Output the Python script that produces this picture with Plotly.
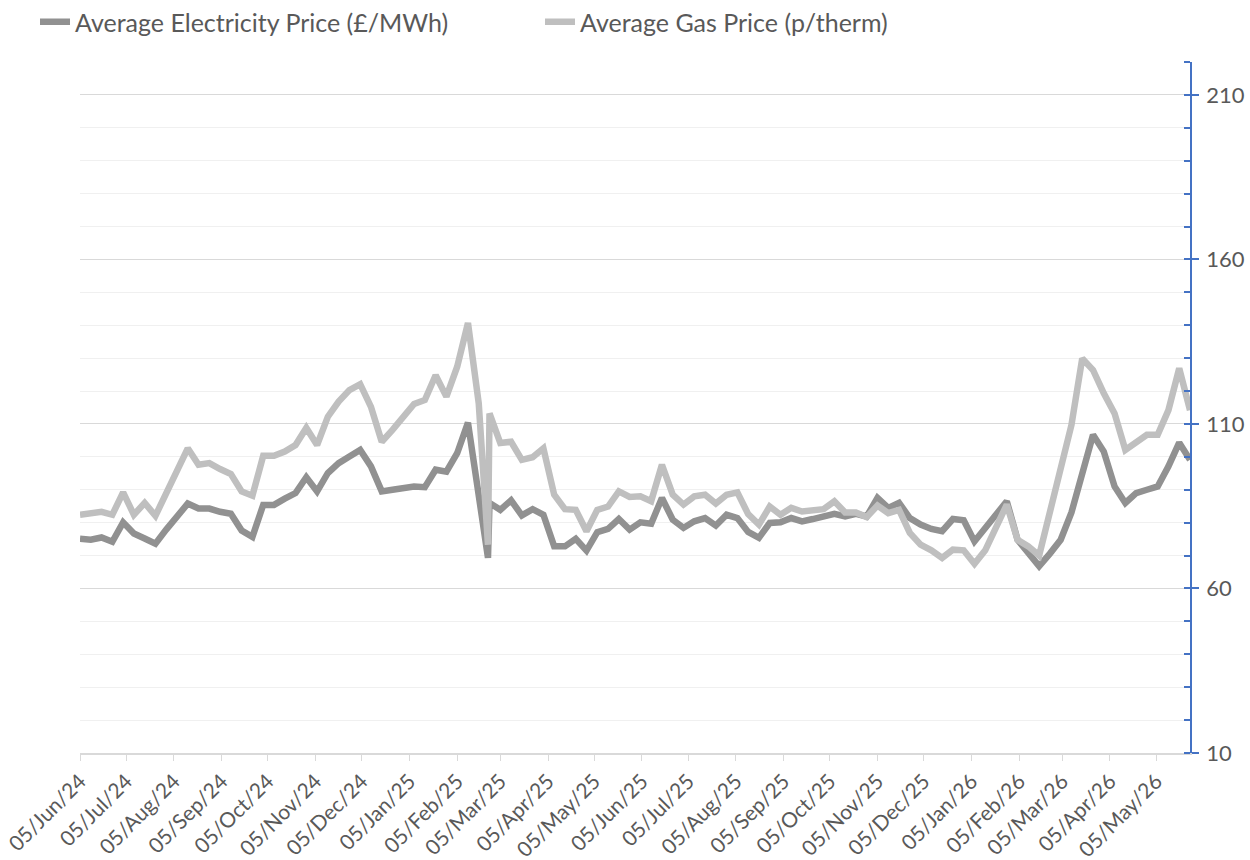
import pandas as pd
import plotly.graph_objects as go

# ---- data ----
weekly_dates = pd.date_range("2024-06-05", periods=104, freq="7D")
extra_date = pd.Timestamp("2025-02-25")  # irregular dip point
dates = sorted(list(weekly_dates) + [extra_date])

electricity = [
    75.1, 74.8, 75.5, 74.2, 80.1, 76.7, 75.2, 73.6, 77.9, 81.8,
    85.8, 84.3, 84.3, 83.3, 82.7, 77.6, 75.7, 85.4, 85.4, 87.3,
    89.0, 93.8, 89.5, 95.1, 98.1, 100.1, 102.1, 97.1, 89.5, 90.0,
    90.5, 91.0, 90.8, 96.1, 95.5, 101.1, 110.4, 87.8, 69.3,
    86.0, 83.9,
    86.8, 82.2, 84.1, 82.4, 72.8, 72.8, 75.1, 71.5, 77.1, 78.1,
    81.1, 77.9, 80.1, 79.7, 87.5, 80.9, 78.4, 80.4, 81.4, 79.1,
    82.4, 81.4, 77.2, 75.4, 79.9, 80.1, 81.4, 80.4, 81.1, 81.7,
    82.7, 81.9, 82.7, 81.9, 87.5, 84.5, 86.0, 81.4, 79.4, 78.1,
    77.4, 81.1, 80.7, 74.3, 78.4, 82.1, 86.5, 74.8, 70.8, 66.8,
    70.6, 74.8, 83.1, 95.1, 106.7, 101.6, 91.0, 86.0, 89.0, 90.0,
    91.0, 97.1, 104.3, 99.1,
]
gas = [
    82.4, 83.0, 83.3, 82.4, 89.2, 82.4, 86.0, 82.1, 89.0, 95.8,
    102.6, 97.6, 98.1, 96.3, 94.8, 89.5, 88.2, 100.3, 100.3, 101.6,
    103.6, 108.8, 103.6, 112.2, 116.8, 120.3, 122.1, 115.2, 104.6, 108.2,
    112.2, 116.1, 117.3, 124.8, 118.3, 127.4, 140.7, 116.3, 73.3,
    113.2, 104.2,
    104.6, 99.1, 99.9, 102.6, 88.5, 84.1, 83.9, 77.4, 83.9, 84.9,
    89.5, 87.8, 88.0, 86.5, 97.6, 88.5, 85.5, 88.0, 88.5, 85.8,
    88.5, 89.2, 82.6, 79.4, 84.9, 82.4, 84.5, 83.4, 83.7, 84.1,
    86.5, 83.1, 83.1, 81.7, 85.2, 82.9, 83.9, 76.9, 73.3, 71.6,
    69.3, 71.8, 71.6, 67.5, 71.6, 78.7, 85.5, 74.8, 72.8, 70.0,
    82.9, 95.5, 109.7, 129.9, 126.4, 119.3, 113.2, 102.1, 104.2, 106.7,
    106.7, 114.2, 126.9, 114.2,
]
series_names = ["Average Electricity Price (£/MWh)", "Average Gas Price (p/therm)"]

# ---- figure ----
FONT = "Lato"
TXT = "#595959"

fig = go.Figure()
fig.add_trace(go.Scatter(
    x=dates, y=electricity, name=series_names[0], mode="lines",
    line=dict(color="#919191", width=6.5),
))
fig.add_trace(go.Scatter(
    x=dates, y=gas, name=series_names[1], mode="lines",
    line=dict(color="#BFBFBF", width=6.5),
))

fig.update_layout(
    width=1250, height=860,
    paper_bgcolor="white", plot_bgcolor="white",
    margin=dict(l=80, r=60, t=62, b=107, autoexpand=False),
    font=dict(family=FONT, color=TXT, size=20),
    showlegend=True,
    legend=dict(
        orientation="h", xref="container", yref="container",
        x=0.028, y=1 - 22 / 860, xanchor="left", yanchor="middle",
        font=dict(family=FONT, size=25, color=TXT),
        entrywidth=460, entrywidthmode="pixels",
        itemwidth=30, tracegroupgap=0,
    ),
    xaxis=dict(
        type="date",
        range=[dates[0], dates[-1]],
        tick0="2024-06-05", dtick="M1", tickformat="%d/%b/%y",
        tickangle=-45,
        ticks="outside", ticklen=6, tickcolor="#D9D9D9", tickwidth=1,
        showline=True, linecolor="#D9D9D9", linewidth=1.5,
        showgrid=False, zeroline=False, automargin=False,
        tickfont=dict(family=FONT, size=21, color=TXT),
    ),
    yaxis=dict(
        side="right",
        range=[10, 220],
        tick0=10, dtick=50,
        showgrid=True, gridcolor="#D9D9D9", gridwidth=1.3,
        showline=True, linecolor="#4472C4", linewidth=1.5,
        ticks="outside", ticklen=7, tickcolor="#4472C4", tickwidth=1.5,
        minor=dict(dtick=10, tick0=10, showgrid=True, gridcolor="#F0F0F0", gridwidth=1.3,
                   ticks="inside", ticklen=6, tickcolor="#4472C4", tickwidth=1.5),
        zeroline=False, automargin=False,
        tickfont=dict(family=FONT, size=22, color=TXT),
        ticklabelstandoff=3,
    ),
)

fig.write_html(
    "out.html",
    config={"displayModeBar": False},
    post_script="document.body.style.margin='0px';",
)
